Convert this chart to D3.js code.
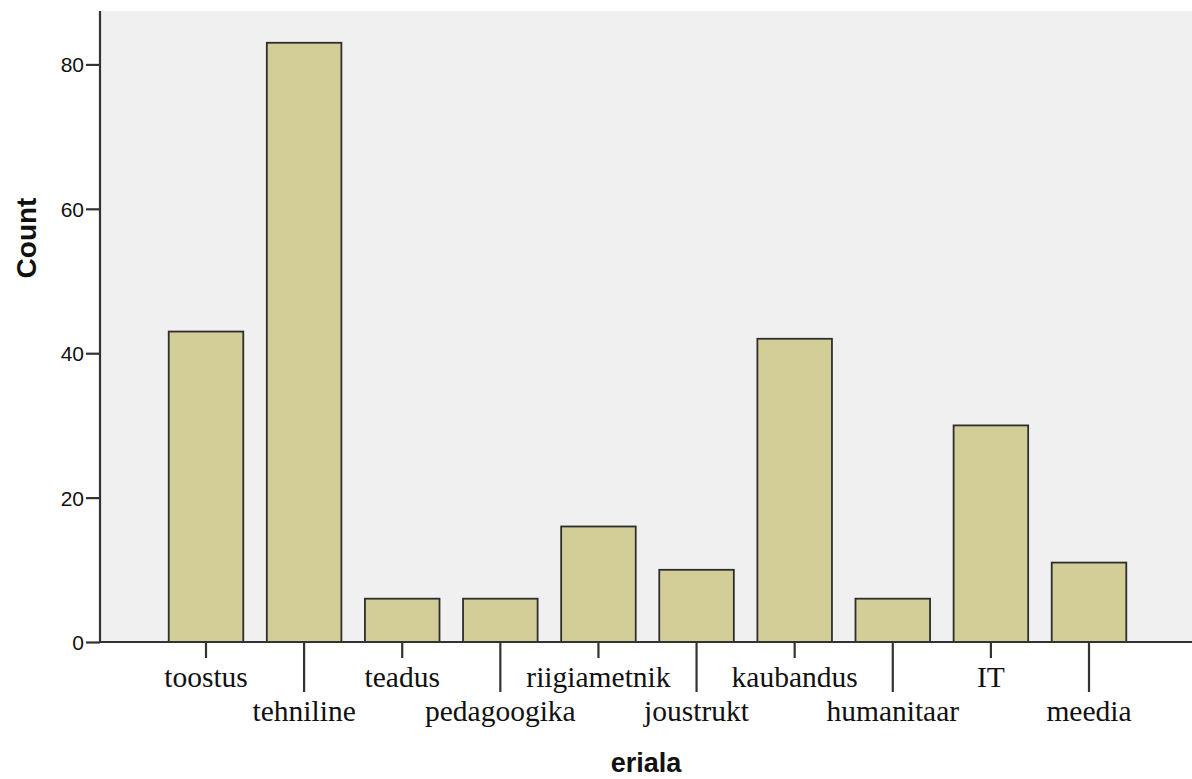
<!DOCTYPE html>
<html>
<head>
<meta charset="utf-8">
<script src="https://cdn.jsdelivr.net/npm/d3@7"></script>
<style>
  html, body { margin: 0; padding: 0; background: #ffffff; }
  svg { display: block; }
</style>
</head>
<body>
<svg id="chart" width="1192" height="779"></svg>
<script>
const categories = ["toostus", "tehniline", "teadus", "pedagoogika", "riigiametnik", "joustrukt", "kaubandus", "humanitaar", "IT", "meedia"];
const counts = [43, 83, 6, 6, 16, 10, 42, 6, 30, 11];
const yTicks = [0, 20, 40, 60, 80];
const xTitle = "eriala";
const yTitle = "Count";

(function () {
const svg = d3.select("#chart");
const pLeft = 100, pRight = 1192, pTop = 11, pBottom = 642;

const x = d3.scaleBand().domain(categories).range([pLeft + 2, pRight + 1]).paddingInner(0.24).paddingOuter(0.68);
const y = d3.scaleLinear().domain([0, 87.4]).range([pBottom, pTop]);

// plot background
svg.append("rect").attr("x", pLeft).attr("y", pTop).attr("width", pRight - pLeft).attr("height", pBottom - pTop).attr("fill", "#f0f0f0");

// bars
svg.append("g").selectAll("rect").data(categories).join("rect")
  .attr("x", d => x(d))
  .attr("y", (d, i) => y(counts[i]))
  .attr("width", x.bandwidth())
  .attr("height", (d, i) => y(0) - y(counts[i]))
  .attr("fill", "#d3ce97")
  .attr("stroke", "#2e2e2e")
  .attr("stroke-width", 1.8);

// y axis
const yAxis = svg.append("g").attr("transform", `translate(${pLeft},0)`)
  .call(d3.axisLeft(y).tickValues(yTicks).tickSize(14).tickPadding(2).tickFormat(d3.format("d")));
yAxis.select(".domain").attr("stroke", "#333").attr("stroke-width", 2.2).attr("d", `M0,${pTop}V${pBottom}`);
yAxis.selectAll(".tick line").attr("stroke", "#333").attr("stroke-width", 2.2);
yAxis.selectAll(".tick text").attr("font-family", "Liberation Sans, Arial, sans-serif").attr("font-size", 21).attr("fill", "#111").attr("dy", "0.36em");

// x axis
const xAxis = svg.append("g").attr("transform", `translate(0,${pBottom})`)
  .call(d3.axisBottom(x).tickSize(0).tickFormat(""));
xAxis.select(".domain").attr("stroke", "#333").attr("stroke-width", 2.2).attr("d", `M${pLeft},0H${pRight}`);
xAxis.selectAll(".tick").each(function (d, i) {
  const g = d3.select(this);
  const long = i % 2 === 1;
  g.append("line").attr("y1", 0).attr("y2", long ? 50 : 16).attr("stroke", "#333").attr("stroke-width", 2.2);
  g.append("text")
    .attr("y", long ? 79 : 45)
    .attr("text-anchor", "middle")
    .attr("font-family", "Liberation Serif, Times New Roman, serif")
    .attr("font-size", 29.5)
    .attr("fill", "#111")
    .text(d);
});

// axis titles
svg.append("text")
  .attr("x", (pLeft + pRight) / 2)
  .attr("y", 772)
  .attr("text-anchor", "middle")
  .attr("font-family", "Liberation Sans, Arial, sans-serif")
  .attr("font-weight", "bold")
  .attr("font-size", 27)
  .attr("fill", "#111")
  .text(xTitle);

svg.append("text")
  .attr("transform", "translate(36,238) rotate(-90)")
  .attr("text-anchor", "middle")
  .attr("font-family", "Liberation Sans, Arial, sans-serif")
  .attr("font-weight", "bold")
  .attr("font-size", 28)
  .attr("fill", "#111")
  .text(yTitle);
})();
</script>
</body>
</html>
